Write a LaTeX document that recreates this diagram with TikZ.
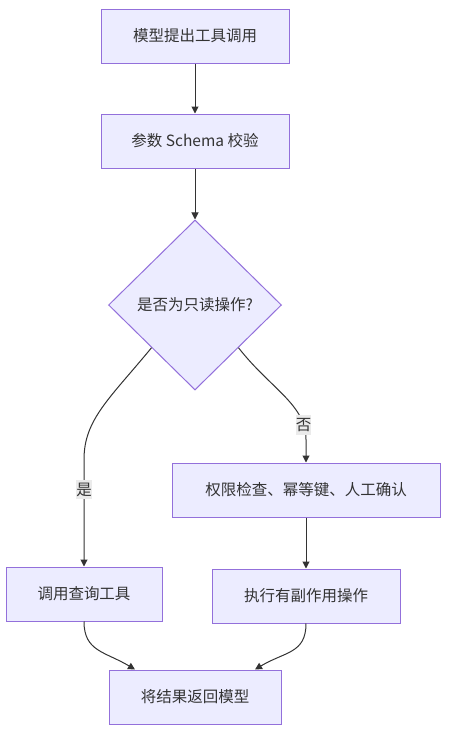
\documentclass[tikz,border=0pt]{standalone}
\usepackage{fontspec}
\setmainfont{Noto Sans CJK SC}
\usepackage{tikz}
\usetikzlibrary{arrows.meta,positioning,shapes.geometric}
\definecolor{ink}{HTML}{333333}
\definecolor{nodefill}{HTML}{ECECFF}
\definecolor{nodeline}{HTML}{9370DB}
\definecolor{tagbg}{HTML}{EBEBEB}
\tikzset{
  box/.style={rectangle, draw=nodeline, line width=1pt, fill=nodefill, text=ink, minimum height=54pt, inner sep=0pt, font=\fontsize{15.5}{18}\selectfont},
  decide/.style={diamond, draw=nodeline, line width=1pt, fill=nodefill, text=ink, minimum width=173pt, minimum height=170pt, inner sep=0pt, font=\fontsize{15.5}{18}\selectfont},
  flow/.style={-{Triangle[length=7pt,width=7pt]}, line width=1pt, draw=ink},
  tag/.style={fill=tagbg, text=ink, inner xsep=0pt, inner ysep=3pt, font=\fontsize{15.5}{18}\selectfont},
}
\begin{document}
\begin{tikzpicture}[x=1pt,y=-1pt]
  \useasboundingbox (0,0) rectangle (452,731);
  % main chain
  \node[box,minimum width=188pt](call) at (195,36){模型提出工具调用};
  \node[box,minimum width=188pt,below=50pt of call](check){参数 Schema 校验};
  \node[decide,below=51pt of check](dec){是否为只读操作?};
  % branches
  \node[box,minimum width=268pt](perm) at (306,490){权限检查、幂等键、人工确认};
  \node[box,minimum width=156pt](ro) at (84,594){调用查询工具};
  \node[box,minimum width=188pt,below=51pt of perm](side){执行有副作用操作};
  \node[box,minimum width=172pt](ret) at (195,697){将结果返回模型};
  % arrows
  \draw[flow](call)--(check);
  \draw[flow](check)--(dec);
  \draw[flow](dec.south west) .. controls +(-42,51) and +(0,-40) .. ([yshift=107pt]ro.north) -- node[tag,pos=0.28]{是} (ro.north);
  \draw[flow](dec.south east) .. controls +(32,41) and +(0,-35) .. node[tag,pos=0.85]{否} ([yshift=23pt]perm.north) -- (perm.north);
  \draw[flow](perm)--(side);
  \draw[flow](ro.south) .. controls +(0,30) and +(-30,-18) .. ([xshift=-60pt]ret.north);
  \draw[flow](side.south) .. controls +(0,30) and +(30,-18) .. ([xshift=60pt]ret.north);
\end{tikzpicture}
\end{document}
